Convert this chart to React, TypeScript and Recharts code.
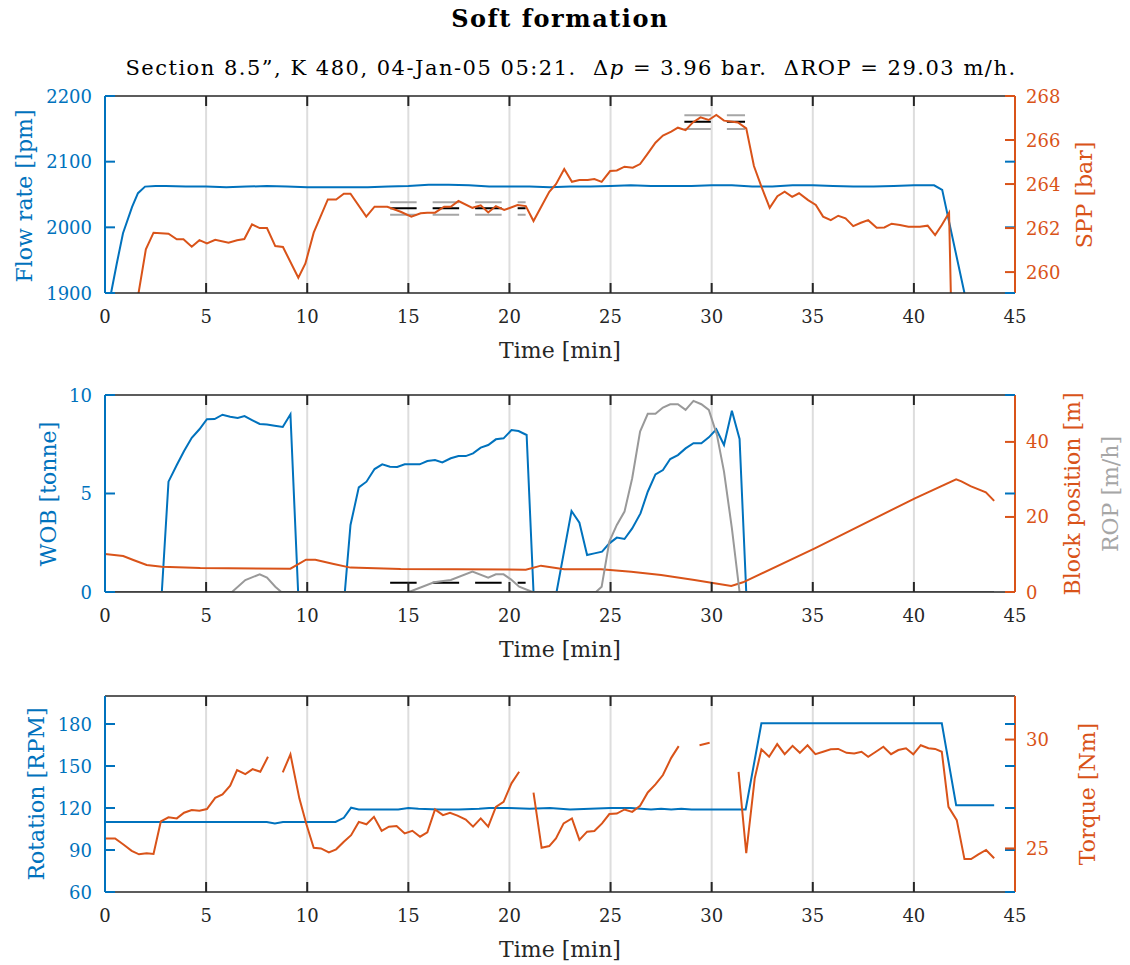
import React from "react";
import {
  ComposedChart,
  Line,
  XAxis,
  YAxis,
  CartesianGrid,
  ReferenceLine,
  Label,
} from "recharts";

const BLUE = "#0072BD";
const ORANGE = "#D95319";
const GRAY = "#999999";
const FRAME = "#262626";
const FONT = "'DejaVu Serif', serif";

const W = 1130;
const PLOT_L = 105;
const PLOT_R = 1015;

const xTicks = [0, 5, 10, 15, 20, 25, 30, 35, 40, 45];

// ---- panel 1: flow rate / SPP ----
const flowPts: [number, number][] = [
  [0.3, 1900], [0.59, 1946], [0.89, 1991], [1.34, 2031], [1.63, 2052], [1.98, 2062],
  [2.5, 2063], [3, 2063], [4, 2062], [5, 2062], [6, 2061], [7, 2062], [8, 2063],
  [9, 2062], [10, 2061], [11, 2061], [12, 2061], [13, 2061], [14, 2062], [15, 2063],
  [16, 2065], [17, 2065], [18, 2064], [19, 2062], [20, 2062], [21, 2062], [22, 2061],
  [23, 2062], [24, 2062], [25, 2063], [26, 2064], [27, 2063], [28, 2063], [29, 2063],
  [30, 2064], [31, 2064], [32, 2062], [33, 2062], [34, 2064], [35, 2064], [36, 2063],
  [37, 2062], [38, 2062], [39, 2063], [40, 2064], [41, 2064], [41.4, 2057], [42.5, 1900],
];

const sppPts: [number, number][] = [
  [1.65, 259.0], [2.02, 261.03], [2.4, 261.79], [3.14, 261.74], [3.55, 261.49], [3.88, 261.49],
  [4.29, 261.15], [4.67, 261.45], [5.04, 261.3], [5.45, 261.47], [6.11, 261.33], [6.53, 261.45],
  [6.89, 261.5], [7.27, 262.17], [7.65, 262.0], [8.01, 262.0], [8.42, 261.18], [8.8, 261.14],
  [9.56, 259.74], [9.91, 260.39], [10.32, 261.79], [11.02, 263.3], [11.43, 263.3], [11.81, 263.56],
  [12.14, 263.56], [12.92, 262.52], [13.33, 262.97], [13.96, 262.97], [14.62, 262.74],
  [15.15, 262.52], [15.61, 262.67], [15.94, 262.7], [16.32, 262.7], [16.77, 262.97],
  [17.1, 262.97], [17.48, 263.23], [18.17, 262.92], [18.58, 263.03], [18.95, 262.71],
  [19.33, 263.0], [19.74, 262.82], [20.4, 263.05], [20.81, 263.0], [21.19, 262.32],
  [21.97, 263.65], [22.3, 263.99], [22.71, 264.68], [23.09, 264.1], [23.46, 264.18],
  [23.87, 264.18], [24.2, 264.23], [24.56, 264.1], [24.98, 264.59], [25.31, 264.62],
  [25.69, 264.79], [26.1, 264.74], [26.46, 264.91], [26.81, 265.35], [27.22, 265.88],
  [27.59, 266.2], [28.0, 266.38], [28.33, 266.56], [28.71, 266.45], [29.07, 266.8],
  [29.45, 267.03], [29.85, 266.91], [30.23, 267.14], [30.61, 266.88], [31.3, 266.8],
  [31.71, 266.53], [32.09, 264.82], [32.46, 263.88], [32.87, 262.92], [33.25, 263.45],
  [33.61, 263.65], [33.98, 263.42], [34.32, 263.58], [34.77, 263.27], [35.15, 263.05],
  [35.51, 262.52], [35.89, 262.36], [36.26, 262.56], [36.62, 262.44], [37.0, 262.09],
  [37.38, 262.24], [37.74, 262.36], [38.16, 262.01], [38.54, 262.03], [38.9, 262.2],
  [39.31, 262.14], [39.73, 262.06], [40.3, 262.06], [40.68, 262.11], [41.05, 261.68],
  [41.38, 262.14], [41.74, 262.7], [41.84, 258.5],
];

const sppMeanA: [number, number][] = [[14.1, 262.9], [20.8, 262.9]];
const sppHiA: [number, number][] = [[14.1, 263.17], [20.8, 263.17]];
const sppLoA: [number, number][] = [[14.1, 262.6], [20.8, 262.6]];
const sppMeanB: [number, number][] = [[28.65, 266.83], [31.65, 266.83]];
const sppHiB: [number, number][] = [[28.65, 267.12], [31.65, 267.12]];
const sppLoB: [number, number][] = [[28.65, 266.5], [31.65, 266.5]];

// ---- panel 2: WOB / block position / ROP ----
const wobPts: [number, number][] = [
  [0, 0], [2.81, 0], [3.14, 5.6], [3.55, 6.45], [3.91, 7.16], [4.29, 7.83], [4.67, 8.26],
  [5.04, 8.77], [5.42, 8.78], [5.81, 9.0], [6.19, 8.9], [6.56, 8.83], [6.9, 8.93], [7.27, 8.73],
  [7.65, 8.53], [8.01, 8.5], [8.39, 8.44], [8.79, 8.38], [9.17, 9.02], [9.55, 0], [11.86, 0],
  [12.14, 3.4], [12.55, 5.31], [12.93, 5.6], [13.33, 6.24], [13.71, 6.48], [14.09, 6.36],
  [14.45, 6.35], [14.82, 6.48], [15.2, 6.48], [15.56, 6.48], [15.94, 6.65], [16.32, 6.7],
  [16.68, 6.58], [17.1, 6.79], [17.48, 6.9], [17.84, 6.9], [18.2, 7.04], [18.58, 7.33],
  [18.95, 7.46], [19.33, 7.75], [19.71, 7.8], [20.1, 8.22], [20.45, 8.17], [20.85, 7.97],
  [21.19, 0], [22.33, 0], [23.07, 4.11], [23.46, 3.52], [23.84, 1.88], [24.2, 1.96],
  [24.58, 2.05], [24.94, 2.47], [25.31, 2.76], [25.69, 2.69], [26.07, 3.23], [26.48, 3.99],
  [26.84, 5.09], [27.22, 5.97], [27.59, 6.19], [27.95, 6.75], [28.33, 6.95], [28.71, 7.29],
  [29.1, 7.55], [29.49, 7.55], [29.86, 7.85], [30.23, 8.26], [30.61, 7.46], [31.0, 9.2],
  [31.38, 7.77], [31.71, 0], [43.95, 0],
];

const blockPts: [number, number][] = [
  [0, 10.1], [0.9, 9.6], [1.4, 8.53], [2.06, 7.2], [2.81, 6.76], [4.71, 6.4], [9.17, 6.22],
  [9.94, 8.62], [10.4, 8.6], [11.31, 7.47], [12.14, 6.5], [14.62, 6.13], [20.81, 5.95],
  [21.56, 7.02], [22.71, 6.04], [24.53, 6.04], [26.02, 5.42], [27.5, 4.53], [29.15, 3.2],
  [30.97, 1.6], [31.55, 2.58], [35.1, 11.64], [40.05, 24.97], [42.09, 30.04], [42.35, 29.5],
  [42.8, 28.2], [43.56, 26.58], [43.97, 24.27],
];

const ropPts: [number, number][] = [
  [0, 0], [6.28, 0], [6.94, 3.2], [7.65, 4.71], [8.01, 3.82], [8.42, 1.42], [8.72, 0],
  [15.03, 0], [16.27, 2.58], [17.1, 3.2], [18.17, 5.42], [18.95, 3.82], [19.33, 4.71],
  [19.71, 4.71], [20.07, 3.38], [20.48, 1.42], [21.14, 0], [24.28, 0], [24.56, 1.42],
  [24.94, 13.42], [25.31, 17.87], [25.69, 21.42], [26.07, 30.31], [26.46, 42.75],
  [26.84, 47.47], [27.22, 47.47], [27.59, 49.16], [27.95, 50.04], [28.33, 50.04],
  [28.71, 48.53], [29.1, 50.93], [29.49, 50.04], [29.86, 48.53], [30.26, 41.87],
  [30.61, 32.09], [31.0, 16.98], [31.38, 0], [43.95, 0],
];

const ropMeanA: [number, number][] = [[14.1, 2.48], [20.8, 2.48]];

// ---- panel 3: rotation / torque ----
const rotPts: [number, number][] = [
  [0, 110], [8.0, 110], [8.4, 109], [8.8, 110], [11.4, 110], [11.81, 113], [12.17, 120.2],
  [12.55, 119], [13.5, 119], [14.5, 119], [15.0, 120], [15.5, 119.5], [16.5, 119], [17.5, 119],
  [18.5, 119.5], [19, 120], [20, 120], [21, 119.5], [22, 120], [23, 119], [24, 119.5],
  [25, 120], [26, 120], [27, 119], [27.5, 119.5], [28, 119], [28.5, 119.5], [29, 119],
  [30, 119], [31.3, 119], [31.68, 119], [32.46, 180.5], [41.38, 180.5], [42.09, 122],
  [43.97, 122],
];

const torquePts: [number, number | null][] = [
  [0, 25.46], [0.5, 25.46], [0.91, 25.18], [1.32, 24.89], [1.68, 24.73], [2.06, 24.78],
  [2.4, 24.75], [2.76, 26.24], [3.14, 26.43], [3.55, 26.38], [3.91, 26.64], [4.29, 26.76],
  [4.67, 26.73], [5.04, 26.81], [5.45, 27.32], [5.81, 27.48], [6.19, 27.88], [6.53, 28.6],
  [6.94, 28.41], [7.3, 28.64], [7.68, 28.52], [8.06, 29.21], [8.4, null], [8.79, 28.49],
  [9.17, 29.32], [9.61, 27.3], [9.96, 26.11], [10.32, 25.03], [10.68, 25.0], [11.07, 24.82],
  [11.43, 24.96], [11.81, 25.31], [12.17, 25.61], [12.55, 26.22], [12.93, 26.11],
  [13.3, 26.45], [13.68, 25.81], [14.04, 26.0], [14.42, 26.03], [14.82, 25.69], [15.2, 25.81],
  [15.58, 25.54], [15.94, 25.74], [16.32, 26.79], [16.71, 26.53], [17.06, 26.64],
  [17.43, 26.51], [17.84, 26.33], [18.2, 26.0], [18.58, 26.38], [18.95, 26.0], [19.33, 26.91],
  [19.71, 27.14], [20.1, 27.99], [20.48, 28.52], [20.8, null], [21.19, 27.56], [21.59, 25.03],
  [21.97, 25.11], [22.3, 25.46], [22.68, 26.15], [23.09, 26.38], [23.46, 25.39],
  [23.84, 25.77], [24.2, 25.8], [24.58, 26.15], [24.94, 26.58], [25.31, 26.6], [25.69, 26.79],
  [26.07, 26.68], [26.46, 26.96], [26.84, 27.57], [27.22, 27.94], [27.59, 28.37],
  [28.0, 29.16], [28.37, 29.7], [28.9, null], [29.4, 29.74], [29.9, 29.85], [30.6, null],
  [31.33, 28.52], [31.71, 24.78], [32.13, 28.22], [32.46, 29.55], [32.84, 29.21],
  [33.24, 29.79], [33.61, 29.33], [34.0, 29.71], [34.36, 29.39], [34.74, 29.74],
  [35.13, 29.33], [35.51, 29.44], [35.89, 29.55], [36.26, 29.57], [36.67, 29.39],
  [37.05, 29.36], [37.41, 29.44], [37.74, 29.21], [38.12, 29.44], [38.49, 29.67],
  [38.87, 29.33], [39.23, 29.52], [39.61, 29.6], [39.97, 29.32], [40.34, 29.74],
  [40.72, 29.6], [41.05, 29.57], [41.38, 29.44], [41.71, 26.91], [42.12, 26.3], [42.5, 24.51],
  [42.83, 24.51], [43.19, 24.73], [43.57, 24.93], [43.97, 24.55],
];

const pts = (a: [number, number | null][]) => a.map(([t, v]) => ({ t, v }));

type Series = {
  pts: [number, number | null][];
  axis: "left" | "right";
  color: string;
  dash?: string;
};

type AxisSpec = { domain: [number, number]; ticks: number[] };

type AxisTitle = { text: string; x: number; y: number; color: string };

type PanelProps = {
  top: number;
  height: number;
  mTop: number;
  plotH: number;
  left: AxisSpec;
  right: AxisSpec;
  leftTitles: AxisTitle[];
  rightTitles: AxisTitle[];
  series: Series[];
};

const vText = (t: AxisTitle) => (
  <text
    key={t.text}
    x={t.x}
    y={t.y}
    transform={`rotate(-90 ${t.x} ${t.y})`}
    textAnchor="middle"
    fontFamily={FONT}
    fontSize={22}
    fill={t.color}
  >
    {t.text}
  </text>
);

function Panel({ top, height, mTop, plotH, left, right, leftTitles, rightTitles, series }: PanelProps) {
  const bottom = mTop + plotH;

  const xTick = (p: any) => {
    const v = p.payload.value;
    const inner = v > 0 && v < 45;
    return (
      <g>
        {inner && <line x1={p.x} x2={p.x} y1={bottom} y2={bottom - 10} stroke={FRAME} strokeWidth={2} />}
        {inner && <line x1={p.x} x2={p.x} y1={mTop} y2={mTop + 10} stroke={FRAME} strokeWidth={2} />}
        <text x={p.x} y={bottom + 30} textAnchor="middle" fontFamily={FONT} fontSize={18} fill={FRAME}>
          {v}
        </text>
      </g>
    );
  };

  const leftTick = (p: any) => (
    <g>
      <line x1={PLOT_L} x2={PLOT_L + 10} y1={p.y} y2={p.y} stroke={BLUE} strokeWidth={2} />
      <line x1={PLOT_R - 10} x2={PLOT_R} y1={p.y} y2={p.y} stroke={BLUE} strokeWidth={2} />
      <text x={92} y={p.y + 6.5} textAnchor="end" fontFamily={FONT} fontSize={18} fill={BLUE}>
        {p.payload.value}
      </text>
    </g>
  );

  const rightTick = (p: any) => (
    <g>
      <line x1={PLOT_R - 10} x2={PLOT_R} y1={p.y} y2={p.y} stroke={ORANGE} strokeWidth={2} />
      <text x={1026} y={p.y + 6.5} textAnchor="start" fontFamily={FONT} fontSize={18} fill={ORANGE}>
        {p.payload.value}
      </text>
    </g>
  );

  return (
    <div style={{ position: "absolute", left: 0, top, width: W, height }}>
      <ComposedChart width={W} height={height} margin={{ top: mTop, right: 0, bottom: 0, left: 0 }}>
        <CartesianGrid horizontal={false} stroke="#dddddd" strokeWidth={2} yAxisId="left" />
        <XAxis
          type="number"
          dataKey="t"
          domain={[0, 45]}
          ticks={xTicks}
          interval={0}
          allowDataOverflow
          height={height - bottom}
          axisLine={{ stroke: FRAME, strokeWidth: 1.5 }}
          tickLine={false}
          tickSize={0}
          tick={xTick}
        >
          <Label
            content={() => (
              <text
                x={(PLOT_L + PLOT_R) / 2}
                y={bottom + 65}
                textAnchor="middle"
                fontFamily={FONT}
                fontSize={22}
                fill={FRAME}
              >
                Time [min]
              </text>
            )}
          />
        </XAxis>
        <YAxis
          yAxisId="left"
          width={PLOT_L}
          domain={left.domain}
          ticks={left.ticks}
          interval={0}
          allowDataOverflow
          axisLine={{ stroke: BLUE, strokeWidth: 2 }}
          tickLine={false}
          tickSize={0}
          tick={leftTick}
        >
          <Label content={() => <g>{leftTitles.map(vText)}</g>} />
        </YAxis>
        <YAxis
          yAxisId="right"
          orientation="right"
          width={W - PLOT_R}
          domain={right.domain}
          ticks={right.ticks}
          interval={0}
          allowDataOverflow
          axisLine={{ stroke: ORANGE, strokeWidth: 2 }}
          tickLine={false}
          tickSize={0}
          tick={rightTick}
        >
          <Label content={() => <g>{rightTitles.map(vText)}</g>} />
        </YAxis>
        <ReferenceLine yAxisId="left" y={left.domain[1]} stroke={FRAME} strokeWidth={1.5} />
        {series.map((s, i) => (
          <Line
            key={i}
            data={pts(s.pts)}
            dataKey="v"
            yAxisId={s.axis}
            type="linear"
            stroke={s.color}
            strokeWidth={2}
            strokeDasharray={s.dash}
            dot={false}
            activeDot={false}
            connectNulls={false}
            isAnimationActive={false}
          />
        ))}
      </ComposedChart>
    </div>
  );
}

const DASH = "26.5 16";

export default function App() {
  return (
    <div style={{ position: "absolute", left: 0, top: 0, width: W, height: 965, background: "#fff" }}>
      <svg width={W} height={90} style={{ position: "absolute", left: 0, top: 0 }}>
        <text
          x={560}
          y={27}
          textAnchor="middle"
          fontFamily={FONT}
          fontSize={24}
          fontWeight="bold"
          letterSpacing={1.5}
          fill="#000"
        >
          Soft formation
        </text>
        <text
          x={571}
          y={75}
          textAnchor="middle"
          fontFamily={FONT}
          fontSize={21}
          letterSpacing={1.5}
          fill="#000"
        >
          Section 8.5”, K 480, 04-Jan-05 05:21.{"\u00A0 "}Δ<tspan fontStyle="italic">p</tspan>
          {"\u00A0= "}3.96 bar.{"\u00A0 "}ΔROP{"\u00A0= "}29.03 m/h.
        </text>
      </svg>

      <Panel
        top={0}
        height={370}
        mTop={96}
        plotH={197}
        left={{ domain: [1900, 2200], ticks: [1900, 2000, 2100, 2200] }}
        right={{ domain: [259.05, 268], ticks: [260, 262, 264, 266, 268] }}
        leftTitles={[{ text: "Flow rate [lpm]", x: 32, y: 196, color: BLUE }]}
        rightTitles={[{ text: "SPP [bar]", x: 1092, y: 195, color: ORANGE }]}
        series={[
          { pts: flowPts, axis: "left", color: BLUE },
          { pts: sppHiA, axis: "right", color: "#a6a6a6", dash: DASH },
          { pts: sppLoA, axis: "right", color: "#a6a6a6", dash: DASH },
          { pts: sppMeanA, axis: "right", color: "#000", dash: DASH },
          { pts: sppHiB, axis: "right", color: "#a6a6a6", dash: DASH },
          { pts: sppLoB, axis: "right", color: "#a6a6a6", dash: DASH },
          { pts: sppMeanB, axis: "right", color: "#000", dash: DASH },
          { pts: sppPts, axis: "right", color: ORANGE },
        ]}
      />

      <Panel
        top={300}
        height={370}
        mTop={95}
        plotH={197}
        left={{ domain: [0, 10], ticks: [0, 5, 10] }}
        right={{ domain: [0, 52.5], ticks: [0, 20, 40] }}
        leftTitles={[{ text: "WOB [tonne]", x: 56, y: 194, color: BLUE }]}
        rightTitles={[
          { text: "Block position [m]", x: 1080, y: 194, color: ORANGE },
          { text: "ROP [m/h]", x: 1118, y: 194, color: "#a6a6a6" },
        ]}
        series={[
          { pts: wobPts, axis: "left", color: BLUE },
          { pts: ropMeanA, axis: "right", color: "#000", dash: DASH },
          { pts: blockPts, axis: "right", color: ORANGE },
          { pts: ropPts, axis: "right", color: GRAY },
        ]}
      />

      <Panel
        top={600}
        height={365}
        mTop={96}
        plotH={196}
        left={{ domain: [60, 200], ticks: [60, 90, 120, 150, 180] }}
        right={{ domain: [23, 32], ticks: [25, 30] }}
        leftTitles={[{ text: "Rotation [RPM]", x: 44, y: 194, color: BLUE }]}
        rightTitles={[{ text: "Torque [Nm]", x: 1095, y: 194, color: ORANGE }]}
        series={[
          { pts: rotPts, axis: "left", color: BLUE },
          { pts: torquePts, axis: "right", color: ORANGE },
        ]}
      />
    </div>
  );
}
